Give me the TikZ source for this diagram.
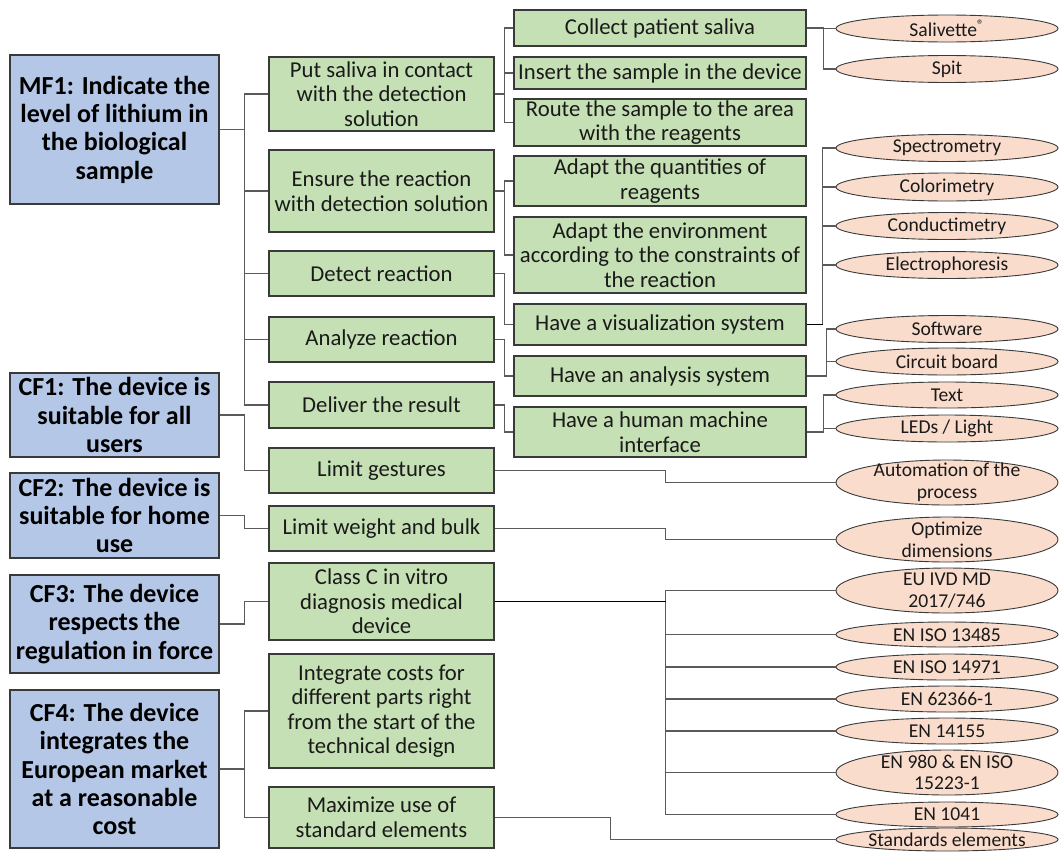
\documentclass[tikz,border=0pt]{standalone}
\usepackage{fontspec}
\setmainfont{Carlito}
\usetikzlibrary{shapes.geometric}
\definecolor{bluef}{HTML}{B4C7E7}
\definecolor{greenf}{HTML}{C5E0B4}
\definecolor{peachf}{HTML}{F9DCCC}
\definecolor{edgec}{HTML}{3A3A3A}
\definecolor{connc}{HTML}{5A5A5A}
\definecolor{txtc}{HTML}{1A1A1A}
\tikzset{
  mainfn/.style={draw=edgec, line width=1.2pt, fill=bluef, inner sep=0pt, align=center,
    font=\fontsize{26}{28.3}\selectfont\bfseries, minimum width=209pt, text=black},
  subfn/.style={draw=edgec, line width=1.1pt, fill=greenf, inner sep=0pt, align=center,
    font=\fontsize{22.7}{24.5}\selectfont, minimum width=225pt, text=txtc},
  leaf/.style={draw=edgec, line width=1.1pt, fill=greenf, inner sep=0pt, align=center,
    font=\fontsize{22.7}{24.5}\selectfont, minimum width=292pt, text=txtc},
  sol/.style={ellipse, draw=edgec, line width=0.9pt, fill=peachf, inner sep=0pt,
    minimum width=222pt},
  soltext/.style={inner sep=0pt, align=center, font=\fontsize{19.6}{21.7}\selectfont, text=txtc},
  link/.style={draw=connc, line width=1.1pt},
  boldlink/.style={draw=black, line width=1.7pt}
}
\newcommand{\solnode}[5]{%
  \node[sol, minimum height=#4pt] (#1) at (#2,#3) {};
  \node[soltext] (#1t) at (#1.center) {#5};}
\begin{document}
\begin{tikzpicture}[x=1pt,y=-1pt]
\fill[white] (0,0) rectangle (1059,852);
\useasboundingbox (0,0) rectangle (1059,852);
\clip (0,0) rectangle (1059,852);

% level 1
\node[mainfn, minimum height=149pt] (MF1) at (114.5,129.5) {MF1: Indicate the\\level of lithium in\\the biological\\sample};
\node[mainfn, minimum height=84pt] (CF1) at (114.5,415) {CF1: The device is\\suitable for all\\users};
\node[mainfn, minimum height=85pt] (CF2) at (114.5,515.5) {CF2: The device is\\suitable for home\\use};
\node[mainfn, minimum height=98pt] (CF3) at (114.5,624) {CF3: The device\\respects the\\regulation in force};
\node[mainfn, minimum height=158pt] (CF4) at (114.5,769) {CF4: The device\\integrates the\\European market\\at a reasonable\\cost};

% level 2
\node[subfn, minimum height=74pt] (p1) at (381.5,94) {Put saliva in contact\\with the detection\\solution};
\node[subfn, minimum height=82pt] (p2) at (381.5,191) {Ensure the reaction\\with detection solution};
\node[subfn, minimum height=45pt] (p3) at (381.5,273.5) {Detect reaction};
\node[subfn, minimum height=45pt] (p4) at (381.5,339.5) {Analyze reaction};
\node[subfn, minimum height=46pt] (p5) at (381.5,405) {Deliver the result};
\node[subfn, minimum height=45pt] (p6) at (381.5,470.5) {Limit gestures};
\node[subfn, minimum height=45pt] (p7) at (381.5,528.5) {Limit weight and bulk};
\node[subfn, minimum height=77pt] (p8) at (381.5,601.5) {Class C in vitro\\diagnosis medical\\device};
\node[subfn, minimum height=114pt] (p9) at (381.5,711) {Integrate costs for\\different parts right\\from the start of the\\technical design};
\node[subfn, minimum height=61pt] (p10) at (381.5,817.5) {Maximize use of\\standard elements};

% level 3
\node[leaf, minimum height=36pt] (q1) at (660,28) {Collect patient saliva};
\node[leaf, minimum height=32pt] (q2) at (660,73) {Insert the sample in the device};
\node[leaf, minimum height=47pt] (q3) at (660,122.5) {Route the sample to the area\\with the reagents};
\node[leaf, minimum height=50pt] (q4) at (660,181) {Adapt the quantities of\\reagents};
\node[leaf, minimum height=76pt] (q5) at (660,255) {Adapt the environment\\according to the constraints of\\the reaction};
\node[leaf, minimum height=41pt] (q6) at (660,324.5) {Have a visualization system};
\node[leaf, minimum height=40pt] (q7) at (660,376) {Have an analysis system};
\node[leaf, minimum height=50pt] (q8) at (660,432) {Have a human machine\\interface};

% solutions
\solnode{s1}{947}{28.5}{27}{Salivette\textsuperscript{\textregistered}}
\solnode{s2}{947}{69}{27}{Spit}
\solnode{s3}{947}{148}{27}{Spectrometry}
\solnode{s4}{947}{187}{28}{Colorimetry}
\solnode{s5}{947}{226}{27}{Conductimetry}
\solnode{s6}{947}{265}{27}{Electrophoresis}
\solnode{s7}{947}{329}{27}{Software}
\solnode{s8}{947}{361.5}{27}{Circuit board}
\solnode{s9}{947}{395}{26}{Text}
\solnode{s10}{947}{428.5}{27}{LEDs / Light}
\solnode{s11}{947}{482.5}{45}{Automation of the\\process}
\solnode{s12}{947}{539.5}{45}{Optimize\\dimensions}
\solnode{s13}{947}{590.5}{45}{EU IVD MD\\2017/746}
\solnode{s14}{947}{634.5}{25}{EN ISO 13485}
\solnode{s15}{947}{667}{26}{EN ISO 14971}
\solnode{s16}{947}{699}{26}{EN 62366-1}
\solnode{s17}{947}{731}{26}{EN 14155}
\solnode{s18}{947}{772.5}{45}{EN 980 \& EN ISO\\15223-1}
\solnode{s19}{947}{814.5}{25}{EN 1041}
\solnode{s20}{947}{839.5}{23}{Standards elements}

% connectors level 1 -> 2
\foreach \t in {p1,p2,p3,p4,p5}{\draw[link] (MF1.east) -- ++(25,0) |- (\t.west);}
\draw[link] (CF1.east) -- ++(25,0) |- (p6.west);
\draw[link] (CF2.east) -- ++(25,0) |- (p7.west);
\draw[link] (CF3.east) -- ++(25,0) |- (p8.west);
\foreach \t in {p9,p10}{\draw[link] (CF4.east) -- ++(25,0) |- (\t.west);}

% level 2 -> 3
\foreach \t in {q1,q2,q3}{\draw[link] (p1.east) -- ++(10,0) |- (\t.west);}
\foreach \t in {q4,q5}{\draw[link] (p2.east) -- ++(10,0) |- (\t.west);}
\draw[link] (p3.east) -- ++(10,0) |- (q6.west);
\draw[link] (p4.east) -- ++(10,0) |- (q7.west);
\draw[link] (p5.east) -- ++(10,0) |- (q8.west);

% level 3 -> solutions
\foreach \t in {s1,s2}{\draw[link] (q1.east) -- ++(17,0) |- (\t.west);}
\foreach \t in {s3,s4,s5,s6}{\draw[link] (q6.east) -- ++(16,0) |- (\t.west);}
\draw[boldlink] (q6.east) -- ++(16,0);
\foreach \t in {s7,s8}{\draw[link] (q7.east) -- ++(20,0) |- (\t.west);}
\foreach \t in {s9,s10}{\draw[link] (q8.east) -- ++(17,0) |- (\t.west);}
\draw[link] (p6.east) -- ++(171,0) |- (s11.west);
\draw[link] (p7.east) -- ++(171,0) |- (s12.west);
\foreach \t in {s13,s14,s15,s16,s17,s18,s19}{\draw[link] (p8.east) -- ++(171,0) |- (\t.west);}
\draw[boldlink] (p8.east) -- ++(171,0);
\draw[link] (p10.east) -- ++(116,0) |- (s20.west);
\end{tikzpicture}
\end{document}
